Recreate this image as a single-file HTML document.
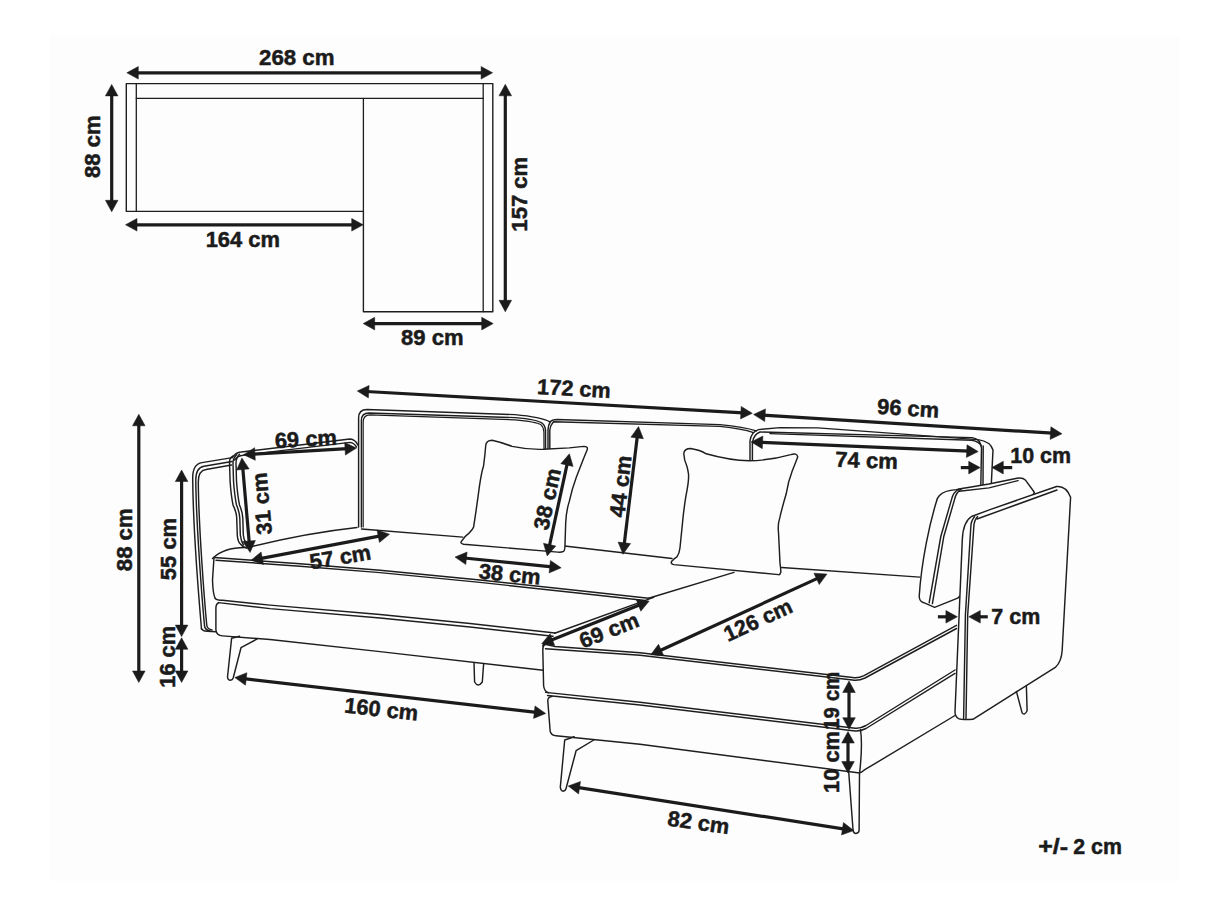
<!DOCTYPE html>
<html><head><meta charset="utf-8"><title>Sofa dimensions</title>
<style>html,body{margin:0;padding:0;background:#fff;}body{width:1214px;height:910px;overflow:hidden;}svg{display:block;}</style>
</head><body>
<svg width="1214" height="910" viewBox="0 0 1214 910">
<rect x="0" y="0" width="1214" height="910" fill="#ffffff"/>
<rect x="50" y="35" width="1129" height="846" fill="#fdfdfd"/>
<g font-family="'Liberation Sans', sans-serif" font-weight="bold" font-size="21.7" fill="#1b1b1b" stroke="#1b1b1b" stroke-width="0.5">
<path d="M126.3,83.6 L492.8,83.6 L492.8,311.7 L363.4,311.7 L363.4,211.4 L126.3,211.4 Z" fill="none" stroke="#1e1e1e" stroke-width="1.4" stroke-linejoin="round" stroke-linecap="round"/>
<path d="M136.3,83.6 L136.3,211.4" fill="none" stroke="#1e1e1e" stroke-width="1.3" stroke-linejoin="round" stroke-linecap="round"/>
<path d="M136.3,98.4 L483.2,98.4" fill="none" stroke="#1e1e1e" stroke-width="1.3" stroke-linejoin="round" stroke-linecap="round"/>
<path d="M483.2,83.6 L483.2,311.7" fill="none" stroke="#1e1e1e" stroke-width="1.3" stroke-linejoin="round" stroke-linecap="round"/>
<path d="M363.4,98.4 L363.4,211.4" fill="none" stroke="#1e1e1e" stroke-width="1.3" stroke-linejoin="round" stroke-linecap="round"/>
<line x1="136.0" y1="72.8" x2="483.4" y2="72.8" stroke="#1b1b1b" stroke-width="3.2"/><polygon points="492.6,72.8 481.1,79.1 481.1,66.5" fill="#1b1b1b"/><polygon points="126.8,72.8 138.3,66.5 138.3,79.1" fill="#1b1b1b"/>
<line x1="111.7" y1="93.6" x2="111.7" y2="202.6" stroke="#1b1b1b" stroke-width="3.2"/><polygon points="111.7,211.8 105.4,200.3 118.0,200.3" fill="#1b1b1b"/><polygon points="111.7,84.4 118.0,95.9 105.4,95.9" fill="#1b1b1b"/>
<line x1="134.7" y1="224.8" x2="354.0" y2="224.8" stroke="#1b1b1b" stroke-width="3.2"/><polygon points="363.2,224.8 351.7,231.1 351.7,218.5" fill="#1b1b1b"/><polygon points="125.5,224.8 137.0,218.5 137.0,231.1" fill="#1b1b1b"/>
<line x1="505.3" y1="93.5" x2="505.3" y2="302.6" stroke="#1b1b1b" stroke-width="3.2"/><polygon points="505.3,311.8 499.0,300.3 511.6,300.3" fill="#1b1b1b"/><polygon points="505.3,84.3 511.6,95.8 499.0,95.8" fill="#1b1b1b"/>
<line x1="372.4" y1="323.6" x2="484.0" y2="323.6" stroke="#1b1b1b" stroke-width="3.2"/><polygon points="493.2,323.6 481.7,329.9 481.7,317.3" fill="#1b1b1b"/><polygon points="363.2,323.6 374.7,317.3 374.7,329.9" fill="#1b1b1b"/>
<text transform="translate(296.8 57.5) rotate(0.00)" x="0" y="7.6" text-anchor="middle" textLength="75.5" lengthAdjust="spacingAndGlyphs">268 cm</text>
<text transform="translate(92.8 146.7) rotate(-90.00)" x="0" y="7.6" text-anchor="middle" textLength="62.6" lengthAdjust="spacingAndGlyphs">88 cm</text>
<text transform="translate(242.8 239.1) rotate(0.00)" x="0" y="7.6" text-anchor="middle" textLength="74.3" lengthAdjust="spacingAndGlyphs">164 cm</text>
<text transform="translate(519.4 194.2) rotate(-90.00)" x="0" y="7.6" text-anchor="middle" textLength="74.9" lengthAdjust="spacingAndGlyphs">157 cm</text>
<text transform="translate(432.3 337.3) rotate(0.00)" x="0" y="7.6" text-anchor="middle" textLength="62.5" lengthAdjust="spacingAndGlyphs">89 cm</text>
<path d="M358.6,527 L358.6,418 Q358.6,409.5 367,409.5 L515,414.6 Q541,417 550.2,422" fill="none" stroke="#1e1e1e" stroke-width="1.45" stroke-linejoin="round" stroke-linecap="round"/>
<path d="M361.4,527 L361.4,420.5 Q361.4,413 369,413 L515,417.6 Q538,419.5 542.5,423.5 Q545.4,426 545.5,431 L545.5,449" fill="none" stroke="#1e1e1e" stroke-width="1.45" stroke-linejoin="round" stroke-linecap="round"/>
<path d="M363.2,527 L363.2,422 Q363.2,415.2 370,414.9 L515,419.8 Q536,421.6 540.8,424.6 Q543.6,427 543.9,432 L544,449" fill="none" stroke="#1e1e1e" stroke-width="1.2" stroke-linejoin="round" stroke-linecap="round"/>
<path d="M548,449 L548,429.7 Q548.3,425 550.2,422 Q552,419.6 557,419.5 L720,424.6 Q744,426.8 756.3,430.9" fill="none" stroke="#1e1e1e" stroke-width="1.45" stroke-linejoin="round" stroke-linecap="round"/>
<path d="M549.8,449 L549.8,429.7 Q550.2,425.5 553.5,421.8 L720,426.4 Q742,428.6 753.5,432.6" fill="none" stroke="#1e1e1e" stroke-width="1.45" stroke-linejoin="round" stroke-linecap="round"/>
<path d="M564.5,546 L672,558.5" fill="none" stroke="#1e1e1e" stroke-width="1.45" stroke-linejoin="round" stroke-linecap="round"/>
<path d="M750,460 L750,441 Q751,432 758.5,429.6 L780,427.6 L817.8,427.9 L978,439.6 Q990.7,441.5 993,450 L991.3,484" fill="none" stroke="#1e1e1e" stroke-width="1.45" stroke-linejoin="round" stroke-linecap="round"/>
<path d="M752.4,460 L752.4,442.5 Q753.5,434.5 760,432 L972.3,437.6 Q980.5,439 981.5,448 L980.8,486" fill="none" stroke="#1e1e1e" stroke-width="1.45" stroke-linejoin="round" stroke-linecap="round"/>
<path d="M770,433.6 L972,440.2 Q979,441.5 981.5,446" fill="none" stroke="#1e1e1e" stroke-width="1.45" stroke-linejoin="round" stroke-linecap="round"/>
<path d="M983.2,446 L983,486" fill="none" stroke="#1e1e1e" stroke-width="1.45" stroke-linejoin="round" stroke-linecap="round"/>
<path d="M781.7,567.5 L919.8,577.1" fill="none" stroke="#1e1e1e" stroke-width="1.45" stroke-linejoin="round" stroke-linecap="round"/>
<path d="M201.5,629 C199,600 193,520 192.7,478 Q192.7,464 202,462.6 L232.3,457.6" fill="none" stroke="#1e1e1e" stroke-width="1.45" stroke-linejoin="round" stroke-linecap="round"/>
<path d="M210,630.8 Q205.3,630 204.6,626.5 C202,600 196,520 195.8,480 Q195.8,467.5 204,466.2 L232,461.5" fill="none" stroke="#1e1e1e" stroke-width="1.45" stroke-linejoin="round" stroke-linecap="round"/>
<path d="M212,630 Q207.3,629 206.8,625.5 C204.3,600 198.6,525 198.3,482 Q198.3,470.5 206,469.5 L231.5,465" fill="none" stroke="#1e1e1e" stroke-width="1.45" stroke-linejoin="round" stroke-linecap="round"/>
<path d="M201.4,628.7 Q203,631.2 207,631.3 L216,631.7" fill="none" stroke="#1e1e1e" stroke-width="1.45" stroke-linejoin="round" stroke-linecap="round"/>
<path d="M232.3,457.6 Q236,452.2 241,452 L349.9,439 Q355.5,439.5 357.8,445" fill="none" stroke="#1e1e1e" stroke-width="1.45" stroke-linejoin="round" stroke-linecap="round"/>
<path d="M234.5,460 Q238,455.5 243,455.2 L350,442.4 Q354,443 356.5,447" fill="none" stroke="#1e1e1e" stroke-width="1.45" stroke-linejoin="round" stroke-linecap="round"/>
<path d="M233.1,455.9 Q229.5,458 229.5,462 L230.1,481.2 Q231,495 233.1,505.4 Q236.5,512 236.7,517.5 L237.3,535.6 Q238,542 240.4,544 Q242.5,547 246.5,548" fill="none" stroke="#1e1e1e" stroke-width="1.45" stroke-linejoin="round" stroke-linecap="round"/>
<path d="M236.7,454.7 Q233,458 233,463 L233.5,481 Q234.5,495 236.5,505 Q239.5,512 239.8,518 L240.3,535 Q241,541 243.5,545" fill="none" stroke="#1e1e1e" stroke-width="1.45" stroke-linejoin="round" stroke-linecap="round"/>
<path d="M239.5,454.3 Q236,458 236,463 L236.5,481 Q237.5,495 239.5,505 Q242.5,512 242.8,518 L243.3,535 Q243.8,540 246,543" fill="none" stroke="#1e1e1e" stroke-width="1.45" stroke-linejoin="round" stroke-linecap="round"/>
<path d="M212.5,558.5 C220,551 233,547 248,547.5 C290,537 325,531 357,527.5" fill="none" stroke="#1e1e1e" stroke-width="1.45" stroke-linejoin="round" stroke-linecap="round"/>
<path d="M361.5,529 L462.8,537.1" fill="none" stroke="#1e1e1e" stroke-width="1.45" stroke-linejoin="round" stroke-linecap="round"/>
<path d="M214,557.5 L212.5,580 Q213,595 215.3,598.5" fill="none" stroke="#1e1e1e" stroke-width="1.45" stroke-linejoin="round" stroke-linecap="round"/>
<path d="M214,557.5 L300,563.8 L380,570.2 L480,580 L580,590.8 L648.6,598.2" fill="none" stroke="#1e1e1e" stroke-width="1.45" stroke-linejoin="round" stroke-linecap="round"/>
<path d="M216,560.2 L300,566.2 L380,572.6 L480,582.4 L580,593.2 L645,600.5" fill="none" stroke="#1e1e1e" stroke-width="1.45" stroke-linejoin="round" stroke-linecap="round"/>
<path d="M215.3,598.5 Q217,600.3 222.5,600.3 L270,605.1 L380,614.5 L470,623.5 L555,633" fill="none" stroke="#1e1e1e" stroke-width="1.45" stroke-linejoin="round" stroke-linecap="round"/>
<path d="M218.5,602.6 L270,608.6 L380,618 L470,627 L553,636.3" fill="none" stroke="#1e1e1e" stroke-width="1.45" stroke-linejoin="round" stroke-linecap="round"/>
<path d="M218.5,603 Q215.9,604 215.9,608 L215.9,630 Q216.5,635.5 222.5,635.9 L270,639.5 L380,651.6 L543.2,670.2" fill="none" stroke="#1e1e1e" stroke-width="1.45" stroke-linejoin="round" stroke-linecap="round"/>
<path d="M239.5,636.3 L231.6,638.3 L227.5,677 Q228,680.5 230.3,680.2 Q232.5,680 233.2,678 L241,647.7 L257.2,638.9" fill="none" stroke="#1e1e1e" stroke-width="1.45" stroke-linejoin="round" stroke-linecap="round"/>
<path d="M474,662.8 L474.6,682 Q478,688 482.3,682 L483.6,664.3" fill="none" stroke="#1e1e1e" stroke-width="1.45" stroke-linejoin="round" stroke-linecap="round"/>
<path d="M648.6,598.2 L734,572.4" fill="none" stroke="#1e1e1e" stroke-width="1.45" stroke-linejoin="round" stroke-linecap="round"/>
<path d="M554.7,633.2 L653.6,597.4" fill="none" stroke="#1e1e1e" stroke-width="1.45" stroke-linejoin="round" stroke-linecap="round"/>
<path d="M543.2,646.7 Q542,644.5 545,644.2 L555,646.5 L640,652.8 L852.7,677.5 Q858,678.5 864,675.6 L956.5,625.3" fill="none" stroke="#1e1e1e" stroke-width="1.45" stroke-linejoin="round" stroke-linecap="round"/>
<path d="M545.5,648.8 L640,655.3 L852.5,680 Q858.5,681 865,678 L956.5,628.5" fill="none" stroke="#1e1e1e" stroke-width="1.45" stroke-linejoin="round" stroke-linecap="round"/>
<path d="M545,644.5 Q542.6,646 542.8,650 L543.6,685.5 Q544.2,691.6 548.5,692.8" fill="none" stroke="#1e1e1e" stroke-width="1.45" stroke-linejoin="round" stroke-linecap="round"/>
<path d="M545.7,692.4 L640,702.2 L855.2,728.2 Q860,728.8 866,725.5 L955,670" fill="none" stroke="#1e1e1e" stroke-width="1.45" stroke-linejoin="round" stroke-linecap="round"/>
<path d="M547.5,695.5 L640,705 L855,731 Q860,731.5 866,728.5 L955,673.4" fill="none" stroke="#1e1e1e" stroke-width="1.45" stroke-linejoin="round" stroke-linecap="round"/>
<path d="M552,696.5 Q547.6,697 547.8,701 L550.2,731.5 Q551.5,735.5 556,735.8 L640,744.3 L857.7,772.7 Q861,773.3 864,770.2 L955,715.5" fill="none" stroke="#1e1e1e" stroke-width="1.45" stroke-linejoin="round" stroke-linecap="round"/>
<path d="M860.5,729.5 Q862.8,745 859.5,774" fill="none" stroke="#1e1e1e" stroke-width="1.45" stroke-linejoin="round" stroke-linecap="round"/>
<path d="M574.2,736.8 L564.7,740 L560.3,787.4 Q561,791.2 563,791.2 Q565.5,791 566,788.7 L576.1,750.7 L593.8,740" fill="none" stroke="#1e1e1e" stroke-width="1.45" stroke-linejoin="round" stroke-linecap="round"/>
<path d="M848.7,771.9 L853.1,830.7 Q854,833.6 856,833.5 Q858.8,833 859.1,830.7 L859.5,774.1" fill="none" stroke="#1e1e1e" stroke-width="1.45" stroke-linejoin="round" stroke-linecap="round"/>
<path d="M956.2,489.6 Q944,490.5 939.5,495.5 Q937.2,498 936.9,500 C930,522 921.5,560 919.2,596.5 Q919.5,601.5 923.8,602.7 L934.6,607.3 L957.7,598.1 L1000,560 L1034.3,492.3 L1025.3,479.9 Q1023,477.5 1017,478.2 L989,484 Q970,487 956.2,489.6 Z" fill="#fdfdfd" stroke="#1e1e1e" stroke-width="1.45" stroke-linejoin="round" stroke-linecap="round"/>
<path d="M959.2,488.8 Q953,492 951.5,499.6 L940.8,536.5 L929.2,602.7" fill="none" stroke="#1e1e1e" stroke-width="1.45" stroke-linejoin="round" stroke-linecap="round"/>
<path d="M962.2,488.4 Q956,492 954.5,499.6 L943.8,536.5 L932.4,603.6" fill="none" stroke="#1e1e1e" stroke-width="1.45" stroke-linejoin="round" stroke-linecap="round"/>
<path d="M959.2,491.2 L989,487.9 L1018,480.6" fill="none" stroke="#1e1e1e" stroke-width="1.45" stroke-linejoin="round" stroke-linecap="round"/>
<path d="M990,509.6 L1056.6,486.5 Q1066,485.5 1070.6,497.2 L1062.2,650 Q1061.5,661.5 1055.7,667.1 L972.9,719.3 Q962,720 958.6,718.6 Q955,716.5 955,712 L962.3,539.6 Q963,522 971.5,516.5 Z" fill="#fdfdfd" stroke="#1e1e1e" stroke-width="1.45" stroke-linejoin="round" stroke-linecap="round"/>
<path d="M977,519 L1057,490" fill="none" stroke="#1e1e1e" stroke-width="1.45" stroke-linejoin="round" stroke-linecap="round"/>
<path d="M974.6,516.8 Q971,520.5 970.8,527 L965.4,615 L963.6,718.6" fill="none" stroke="#1e1e1e" stroke-width="1.45" stroke-linejoin="round" stroke-linecap="round"/>
<path d="M977.6,516.6 Q974,520.5 973.8,527 L967.7,615 L966,718.6" fill="none" stroke="#1e1e1e" stroke-width="1.45" stroke-linejoin="round" stroke-linecap="round"/>
<path d="M1016.4,691.4 L1022.1,712.9 Q1024.5,716 1027.1,710.7 L1026.4,686.4" fill="none" stroke="#1e1e1e" stroke-width="1.45" stroke-linejoin="round" stroke-linecap="round"/>
<path d="M485.7,445.7 Q486,440.5 492.1,440.3 Q502,442.5 512.1,446.4 Q528,449.8 543.6,449.3 L569.3,447.9 L583.6,446.4 Q588.5,446.5 587.1,450 Q585,455 583.6,458.6 L576.4,477.1 Q572,489 569.3,501.4 Q566,512 565.7,522.9 L565,544.3 Q565,550.5 563.6,551.4 Q561,552.6 557.9,552.1 L463.6,544.3 Q460,543.5 461.4,541.4 Q465,536 469.3,532.9 Q472.5,530 473.6,527.1 Q477,505 479.3,487.1 Q481.5,472 483.6,465.7 Q485,455 485.7,445.7 Z" fill="#fdfdfd" stroke="#1e1e1e" stroke-width="1.45" stroke-linejoin="round" stroke-linecap="round"/>
<path d="M683.8,453.8 Q684,448.5 690.8,448.5 Q700,450 706.2,453.8 Q730,460.5 749.2,460.8 Q770,460.5 790.8,454.6 Q797,452.5 797.7,456.9 Q795,464 792.3,470.8 Q788,482 786.2,493.8 Q782,508 780,516.9 Q777.5,525 778.5,532.3 L780,563.1 Q781,570 780.8,572.3 Q780,575 778.5,574.6 L673.8,564.6 Q670.5,564 671.5,561.5 Q674,558.5 676.9,556.9 Q679.5,553 680,547.7 L683.1,516.9 Q685,500 686.9,490.8 Q689,480 688.5,473.8 Q687.5,468 686.9,466.2 Q684,460 683.8,453.8 Z" fill="#fdfdfd" stroke="#1e1e1e" stroke-width="1.45" stroke-linejoin="round" stroke-linecap="round"/>
<line x1="366.5" y1="391.5" x2="743.1" y2="412.8" stroke="#1b1b1b" stroke-width="3.2"/><polygon points="752.3,413.3 740.5,418.9 741.2,406.4" fill="#1b1b1b"/><polygon points="357.3,391.0 369.1,385.4 368.4,397.9" fill="#1b1b1b"/>
<line x1="762.8" y1="415.1" x2="1052.8" y2="433.2" stroke="#1b1b1b" stroke-width="3.2"/><polygon points="1062.0,433.8 1050.1,439.4 1050.9,426.8" fill="#1b1b1b"/><polygon points="753.6,414.5 765.5,408.9 764.7,421.5" fill="#1b1b1b"/>
<line x1="760.3" y1="442.3" x2="969.0" y2="451.2" stroke="#1b1b1b" stroke-width="3.2"/><polygon points="978.2,451.6 966.4,457.4 967.0,444.8" fill="#1b1b1b"/><polygon points="751.1,441.9 762.9,436.1 762.3,448.7" fill="#1b1b1b"/>
<line x1="960.8" y1="467.6" x2="971.0" y2="467.6" stroke="#1b1b1b" stroke-width="3.2"/><polygon points="980.2,467.6 968.7,473.9 968.7,461.3" fill="#1b1b1b"/>
<line x1="1012.2" y1="467.6" x2="1001.0" y2="467.6" stroke="#1b1b1b" stroke-width="3.2"/><polygon points="991.8,467.6 1003.3,461.3 1003.3,473.9" fill="#1b1b1b"/>
<line x1="252.7" y1="454.2" x2="347.3" y2="448.6" stroke="#1b1b1b" stroke-width="3.2"/><polygon points="356.5,448.1 345.4,455.1 344.7,442.5" fill="#1b1b1b"/><polygon points="243.5,454.7 254.6,447.7 255.3,460.3" fill="#1b1b1b"/>
<line x1="242.7" y1="467.2" x2="249.3" y2="543.3" stroke="#1b1b1b" stroke-width="3.2"/><polygon points="250.1,552.5 242.8,541.6 255.4,540.5" fill="#1b1b1b"/><polygon points="241.9,458.0 249.2,468.9 236.6,470.0" fill="#1b1b1b"/>
<line x1="567.4" y1="462.8" x2="549.2" y2="546.9" stroke="#1b1b1b" stroke-width="3.2"/><polygon points="547.2,555.9 543.5,543.3 555.8,546.0" fill="#1b1b1b"/><polygon points="569.4,453.8 573.1,466.4 560.8,463.7" fill="#1b1b1b"/>
<line x1="637.4" y1="435.6" x2="624.1" y2="545.2" stroke="#1b1b1b" stroke-width="3.2"/><polygon points="623.0,554.3 618.1,542.1 630.6,543.6" fill="#1b1b1b"/><polygon points="638.5,426.5 643.4,438.7 630.9,437.2" fill="#1b1b1b"/>
<line x1="138.8" y1="423.5" x2="138.8" y2="673.3" stroke="#1b1b1b" stroke-width="3.2"/><polygon points="138.8,682.5 132.5,671.0 145.1,671.0" fill="#1b1b1b"/><polygon points="138.8,414.3 145.1,425.8 132.5,425.8" fill="#1b1b1b"/>
<line x1="181.6" y1="479.2" x2="181.6" y2="627.4" stroke="#1b1b1b" stroke-width="3.2"/><polygon points="181.6,636.6 175.3,625.1 187.9,625.1" fill="#1b1b1b"/><polygon points="181.6,470.0 187.9,481.5 175.3,481.5" fill="#1b1b1b"/>
<line x1="181.6" y1="647.0" x2="181.6" y2="673.2" stroke="#1b1b1b" stroke-width="3.2"/><polygon points="181.6,682.4 175.3,670.9 187.9,670.9" fill="#1b1b1b"/><polygon points="181.6,637.8 187.9,649.3 175.3,649.3" fill="#1b1b1b"/>
<line x1="260.0" y1="558.6" x2="380.5" y2="535.9" stroke="#1b1b1b" stroke-width="3.2"/><polygon points="389.5,534.2 379.4,542.5 377.0,530.1" fill="#1b1b1b"/><polygon points="251.0,560.3 261.1,552.0 263.5,564.4" fill="#1b1b1b"/>
<line x1="464.2" y1="558.0" x2="552.0" y2="566.9" stroke="#1b1b1b" stroke-width="3.2"/><polygon points="561.2,567.8 549.1,572.9 550.4,560.4" fill="#1b1b1b"/><polygon points="455.0,557.1 467.1,552.0 465.8,564.5" fill="#1b1b1b"/>
<line x1="550.3" y1="640.4" x2="640.6" y2="604.5" stroke="#1b1b1b" stroke-width="3.2"/><polygon points="649.2,601.1 640.8,611.2 636.2,599.5" fill="#1b1b1b"/><polygon points="541.7,643.8 550.1,633.7 554.7,645.4" fill="#1b1b1b"/>
<line x1="659.1" y1="651.0" x2="818.6" y2="577.9" stroke="#1b1b1b" stroke-width="3.2"/><polygon points="827.0,574.1 819.2,584.6 813.9,573.2" fill="#1b1b1b"/><polygon points="650.7,654.8 658.5,644.3 663.8,655.7" fill="#1b1b1b"/>
<line x1="937.9" y1="616.8" x2="948.2" y2="616.8" stroke="#1b1b1b" stroke-width="3.2"/><polygon points="957.4,616.8 945.9,623.1 945.9,610.5" fill="#1b1b1b"/>
<line x1="987.8" y1="616.8" x2="978.0" y2="616.8" stroke="#1b1b1b" stroke-width="3.2"/><polygon points="968.8,616.8 980.3,610.5 980.3,623.1" fill="#1b1b1b"/>
<line x1="243.9" y1="678.7" x2="536.6" y2="712.4" stroke="#1b1b1b" stroke-width="3.2"/><polygon points="545.7,713.5 533.6,718.4 535.0,705.9" fill="#1b1b1b"/><polygon points="234.8,677.6 246.9,672.7 245.5,685.2" fill="#1b1b1b"/>
<line x1="849.0" y1="690.2" x2="849.0" y2="720.0" stroke="#1b1b1b" stroke-width="3.2"/><polygon points="849.0,729.2 842.7,717.7 855.3,717.7" fill="#1b1b1b"/><polygon points="849.0,681.0 855.3,692.5 842.7,692.5" fill="#1b1b1b"/>
<line x1="848.0" y1="740.7" x2="848.0" y2="763.8" stroke="#1b1b1b" stroke-width="3.2"/><polygon points="848.0,773.0 841.7,761.5 854.3,761.5" fill="#1b1b1b"/><polygon points="848.0,731.5 854.3,743.0 841.7,743.0" fill="#1b1b1b"/>
<line x1="577.3" y1="787.4" x2="844.7" y2="829.1" stroke="#1b1b1b" stroke-width="3.2"/><polygon points="853.8,830.5 841.5,835.0 843.4,822.5" fill="#1b1b1b"/><polygon points="568.2,786.0 580.5,781.5 578.6,794.0" fill="#1b1b1b"/>
<text transform="translate(574.0 388.4) rotate(3.30)" x="0" y="7.6" text-anchor="middle" textLength="73.5" lengthAdjust="spacingAndGlyphs">172 cm</text>
<text transform="translate(908.2 408.2) rotate(3.60)" x="0" y="7.6" text-anchor="middle" textLength="62.0" lengthAdjust="spacingAndGlyphs">96 cm</text>
<text transform="translate(866.6 460.2) rotate(2.00)" x="0" y="7.6" text-anchor="middle" textLength="62.5" lengthAdjust="spacingAndGlyphs">74 cm</text>
<text transform="translate(1040.6 455.6) rotate(0.00)" x="0" y="7.6" text-anchor="middle" textLength="60.7" lengthAdjust="spacingAndGlyphs">10 cm</text>
<text transform="translate(305.8 438.9) rotate(-3.30)" x="0" y="7.6" text-anchor="middle" textLength="62.2" lengthAdjust="spacingAndGlyphs">69 cm</text>
<text transform="translate(261.7 503.8) rotate(-95.00)" x="0" y="7.6" text-anchor="middle" textLength="62.2" lengthAdjust="spacingAndGlyphs">31 cm</text>
<text transform="translate(547.2 499.0) rotate(-77.70)" x="0" y="7.6" text-anchor="middle" textLength="62.0" lengthAdjust="spacingAndGlyphs">38 cm</text>
<text transform="translate(620.4 486.3) rotate(-83.10)" x="0" y="7.6" text-anchor="middle" textLength="62.0" lengthAdjust="spacingAndGlyphs">44 cm</text>
<text transform="translate(123.9 539.8) rotate(-90.00)" x="0" y="7.6" text-anchor="middle" textLength="62.8" lengthAdjust="spacingAndGlyphs">88 cm</text>
<text transform="translate(167.9 549.0) rotate(-90.00)" x="0" y="7.6" text-anchor="middle" textLength="62.3" lengthAdjust="spacingAndGlyphs">55 cm</text>
<text transform="translate(167.5 656.8) rotate(-90.00)" x="0" y="7.6" text-anchor="middle" textLength="61.8" lengthAdjust="spacingAndGlyphs">16 cm</text>
<text transform="translate(340.2 556.8) rotate(-9.60)" x="0" y="7.6" text-anchor="middle" textLength="61.8" lengthAdjust="spacingAndGlyphs">57 cm</text>
<text transform="translate(509.8 574.0) rotate(5.80)" x="0" y="7.6" text-anchor="middle" textLength="62.0" lengthAdjust="spacingAndGlyphs">38 cm</text>
<text transform="translate(609.0 630.3) rotate(-21.70)" x="0" y="7.6" text-anchor="middle" textLength="62.0" lengthAdjust="spacingAndGlyphs">69 cm</text>
<text transform="translate(757.9 619.9) rotate(-24.60)" x="0" y="7.6" text-anchor="middle" textLength="72.7" lengthAdjust="spacingAndGlyphs">126 cm</text>
<text transform="translate(1015.8 616.8) rotate(0.00)" x="0" y="7.6" text-anchor="middle" textLength="48.9" lengthAdjust="spacingAndGlyphs">7 cm</text>
<text transform="translate(381.3 709.0) rotate(6.40)" x="0" y="7.6" text-anchor="middle" textLength="74.0" lengthAdjust="spacingAndGlyphs">160 cm</text>
<text transform="translate(831.3 700.8) rotate(-90.00)" x="0" y="7.6" text-anchor="middle" textLength="58.0" lengthAdjust="spacingAndGlyphs">19 cm</text>
<text transform="translate(831.3 762.0) rotate(-90.00)" x="0" y="7.6" text-anchor="middle" textLength="62.0" lengthAdjust="spacingAndGlyphs">10 cm</text>
<text transform="translate(698.6 822.3) rotate(8.00)" x="0" y="7.6" text-anchor="middle" textLength="62.0" lengthAdjust="spacingAndGlyphs">82 cm</text>
<text transform="translate(1053.2 846.5) rotate(0.00)" x="0" y="7.6" text-anchor="middle" textLength="29.8" lengthAdjust="spacingAndGlyphs">+/-</text>
<text transform="translate(1097.6 846.5) rotate(0.00)" x="0" y="7.6" text-anchor="middle" textLength="48.6" lengthAdjust="spacingAndGlyphs">2 cm</text>
</g></svg>
</body></html>
